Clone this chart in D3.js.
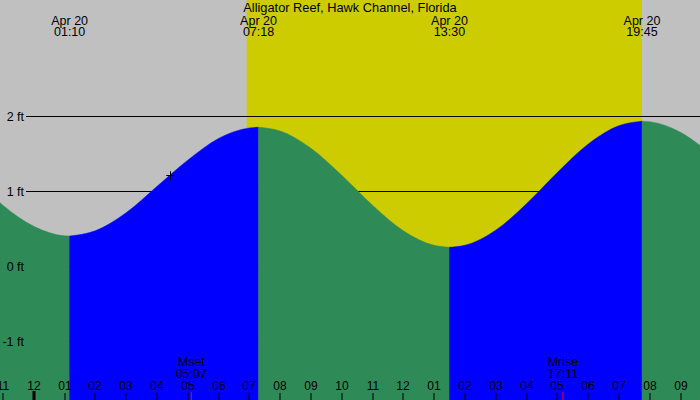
<!DOCTYPE html>
<html><head><meta charset="utf-8">
<script src="https://cdn.jsdelivr.net/npm/d3@7"></script>
<style>html,body{margin:0;padding:0;background:#c0c0c0;overflow:hidden}svg{display:block}</style>
</head><body>
<svg id="chart" width="700" height="400"></svg>
<script>
// ---- data ----
const title = "Alligator Reef, Hawk Channel, Florida";
const extremeDates = ["Apr 20", "Apr 20", "Apr 20", "Apr 20"];
const extremeTimes = ["01:10", "07:18", "13:30", "19:45"];
const extremeFeet = [0.40, 1.85, 0.25, 1.93];
// tide samples: hours from midnight Apr 20, height in feet
const tideHours = [-1.1, -1, 0, 1, 1.1667, 2, 3, 4, 5, 6, 7, 7.3, 8, 9, 10, 11, 12, 13, 13.5, 14, 15, 16, 17, 18, 19, 19.75, 20, 21, 21.7];
const tideFeet  = [0.845, 0.81, 0.53, 0.403, 0.40, 0.47, 0.71, 1.06, 1.41, 1.70, 1.84, 1.85, 1.80, 1.57, 1.21, 0.81, 0.47, 0.276, 0.25, 0.276, 0.478, 0.83, 1.247, 1.625, 1.871, 1.93, 1.924, 1.782, 1.587];
const sunrise = "06:55", sunset = "19:45";
const moonLabels = ["Mset", "Mrise"];
const moonTimes = ["05:07", "17:11"];
const markerTime = "04:26", markerFeet = 1.21;
const feetTicks = [-1, 0, 1, 2];
const feetTickLabels = ["-1 ft", "0 ft", "1 ft", "2 ft"];

// ---- helpers ----
const base = Date.UTC(2024, 3, 20, 0, 0);
const hm = s => { const [h, m] = s.split(":").map(Number); return new Date(base + (h * 60 + m) * 60000); };
const hr = h => new Date(base + h * 3600000);

const W = 700, H = 400;
const svg = d3.select("#chart");
const FONT = "'Liberation Sans', Arial, sans-serif";

const x = d3.scaleUtc().domain([hr(0), hr(12)]).range([33.7, 403.3]);
const y = d3.scaleLinear().domain([-1, 2]).range([341, 116]);

// background night
svg.append("rect").attr("x", 0).attr("y", 0).attr("width", W).attr("height", H).attr("fill", "#c0c0c0");
// daylight
svg.append("rect").attr("x", x(hm(sunrise))).attr("y", 0)
  .attr("width", x(hm(sunset)) - x(hm(sunrise))).attr("height", H).attr("fill", "#cccc00");

// gridlines
svg.append("g").selectAll("line").data(feetTicks).join("line")
  .attr("x1", 26).attr("x2", W).attr("y1", d => Math.round(y(d)) + 0.5).attr("y2", d => Math.round(y(d)) + 0.5)
  .attr("stroke", "#000").attr("stroke-width", 1);

// tide areas, split at extremes
const pts = tideHours.map((h, i) => ({ t: hr(h), h: h, v: tideFeet[i] }));
const bounds = [tideHours[0], ...extremeTimes.map(s => (hm(s) - base) / 3600000), tideHours[tideHours.length - 1]];
const area = d3.area().x(d => x(d.t)).y0(H).y1(d => y(d.v)).curve(d3.curveMonotoneX);
const segs = [];
for (let i = 0; i < bounds.length - 1; i++) {
  const a = bounds[i], b = bounds[i + 1];
  const seg = pts.filter(p => p.h >= a - 1e-3 && p.h <= b + 1e-3);
  if (seg.length > 1) segs.push(seg);
}
svg.append("g").selectAll("path").data(segs).join("path")
  .attr("d", area)
  .attr("fill", d => d[d.length - 1].v > d[0].v ? "#0000ff" : "#2e8b57")
  .attr("stroke", d => d[d.length - 1].v > d[0].v ? "#0000ff" : "#2e8b57")
  .attr("stroke-width", 0.5);

// marker "+"
const mx = x(hm(markerTime)), my = y(markerFeet);
svg.append("path").attr("d", `M${mx - 4},${Math.round(my) + 0.5}H${mx + 5}M${Math.round(mx) + 0.5},${my - 4}V${my + 5}`)
  .attr("stroke", "#000").attr("stroke-width", 1).attr("fill", "none");

// y labels
svg.append("g").selectAll("text").data(feetTicks).join("text")
  .attr("x", 24).attr("y", d => y(d) + 4.5).attr("text-anchor", "end")
  .attr("font-family", FONT).attr("font-size", 12.5).attr("fill", "#000")
  .text((d, i) => feetTickLabels[i]);

// title
svg.append("text").attr("x", 350).attr("y", 11.5).attr("text-anchor", "middle")
  .attr("font-family", FONT).attr("font-size", 12.8).attr("fill", "#000").text(title);

// extreme labels
const ex = svg.append("g").selectAll("g").data(extremeTimes).join("g")
  .attr("transform", d => `translate(${x(hm(d))},0)`);
ex.append("text").attr("y", 24.5).attr("text-anchor", "middle").attr("font-family", FONT).attr("font-size", 12.5)
  .text((d, i) => extremeDates[i]);
ex.append("text").attr("y", 36).attr("text-anchor", "middle").attr("font-family", FONT).attr("font-size", 12.5)
  .text(d => d);

// hour ticks and labels
const hours = d3.utcHour.range(x.invert(-10), x.invert(W + 10));
const fmt = d3.utcFormat("%I");
const ht = svg.append("g").selectAll("g").data(hours).join("g")
  .attr("transform", d => `translate(${Math.round(x(d))},0)`);
ht.append("rect")
  .attr("x", d => d.getUTCHours() === 0 ? -1.5 : -0.5)
  .attr("width", d => d.getUTCHours() === 0 ? 3 : 1)
  .attr("y", d => d.getUTCHours() === 0 ? 391 : 393).attr("height", 9).attr("fill", "#000");
ht.append("text").attr("y", 389.5).attr("text-anchor", "middle").attr("font-family", FONT).attr("font-size", 12)
  .text(d => fmt(d));

// moon
const mg = svg.append("g").selectAll("g").data(moonTimes).join("g")
  .attr("transform", d => `translate(${x(hm(d))},0)`);
mg.append("rect").attr("x", -0.5).attr("width", 1).attr("y", 392).attr("height", 8).attr("fill", "#ff0000");
mg.append("text").attr("y", 366).attr("text-anchor", "middle").attr("font-family", FONT).attr("font-size", 12.5)
  .text((d, i) => moonLabels[i]);
mg.append("text").attr("y", 377.5).attr("text-anchor", "middle").attr("font-family", FONT).attr("font-size", 12.5)
  .text(d => d);
</script>
</body></html>
